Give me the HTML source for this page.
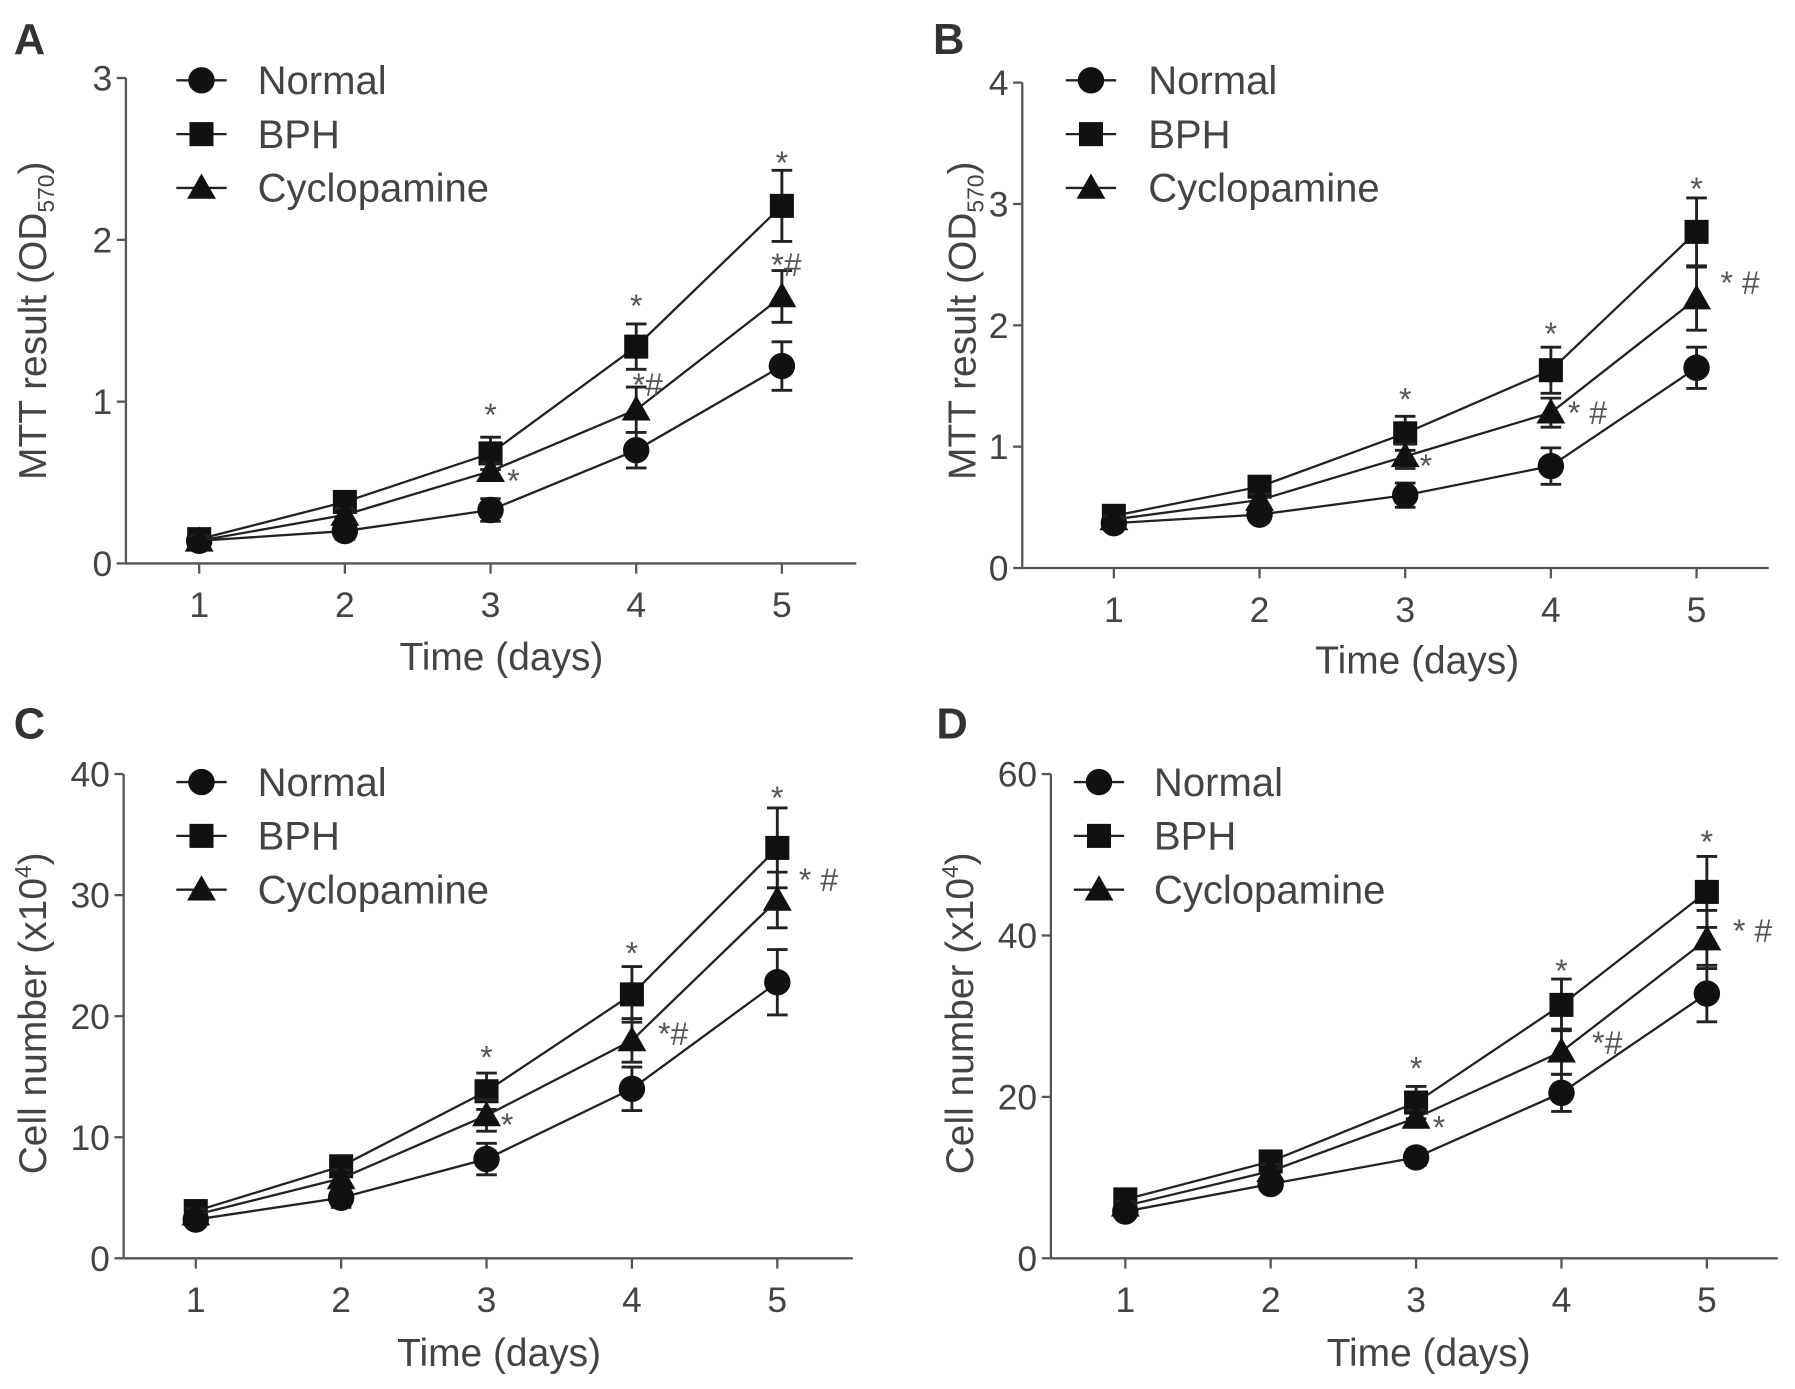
<!DOCTYPE html>
<html><head><meta charset="utf-8"><style>
html,body{margin:0;padding:0;background:#fff}
svg{display:block}
text{font-family:"Liberation Sans",Arial,sans-serif;fill:#444}
</style></head><body>
<svg id="fig" width="1795" height="1389" viewBox="0 0 1568 1213" xmlns="http://www.w3.org/2000/svg"></svg>
<script>
const days = [1,2,3,4,5];
const seriesNames = ["Normal","BPH","Cyclopamine"];
// Panel A
const aNormal=[0.14,0.2,0.33,0.7,1.22], aNormalErr=[0.03,0.05,0.07,0.11,0.15];
const aBPH=[0.15,0.38,0.68,1.34,2.21], aBPHErr=[0.03,0.05,0.1,0.14,0.22];
const aCyc=[0.14,0.3,0.57,0.95,1.65], aCycErr=[0.03,0.04,0.05,0.14,0.16];
const aTicks=[0,1,2,3];
// Panel B
const bNormal=[0.37,0.44,0.6,0.84,1.65], bNormalErr=[0.03,0.06,0.1,0.15,0.17];
const bBPH=[0.43,0.67,1.11,1.63,2.77], bBPHErr=[0.03,0.06,0.14,0.19,0.28];
const bCyc=[0.4,0.56,0.92,1.28,2.22], bCycErr=[0.03,0.05,0.1,0.12,0.26];
const bTicks=[0,1,2,3,4];
// Panel C
const cNormal=[3.2,5.0,8.2,14,22.8], cNormalErr=[0.6,0.8,1.3,1.8,2.7];
const cBPH=[3.9,7.6,13.8,21.8,33.9], cBPHErr=[0.5,0.8,1.5,2.3,3.3];
const cCyc=[3.6,6.6,11.8,18,29.6], cCycErr=[0.5,0.7,1.3,1.8,2.3];
const cTicks=[0,10,20,30,40];
// Panel D
const dNormal=[5.8,9.2,12.5,20.5,32.8], dNormalErr=[0.8,0.8,1,2.3,3.5];
const dBPH=[7.3,12,19.3,31.4,45.4], dBPHErr=[0.7,0.8,2,3.2,4.4];
const dCyc=[6.5,10.8,17.4,25.6,39.5], dCycErr=[0.6,0.8,1,2.8,3.6];
const dTicks=[0,20,40,60];
// annotations: [day, value, text, dx(px), dy(px)]
const aNotes=[[3,0.68,"*",0,-24],[4,1.34,"*",0,-26],[5,2.21,"*",0,-28],[3,0.57,"*",20,18],[4,0.95,"*#",10,-12],[5,1.65,"*#",4,-18]];
const bNotes=[[3,1.11,"*",0,-20],[4,1.63,"*",0,-22],[5,2.77,"*",0,-28],[3,0.92,"*",18,18],[4,1.28,"* #",32,10],[5,2.22,"* #",38,-4]];
const cNotes=[[3,13.8,"*",0,-20],[4,21.8,"*",0,-26],[5,33.9,"*",0,-34],[3,11.8,"*",18,18],[4,18,"*#",36,4],[5,29.6,"* #",36,-8]];
const dNotes=[[3,19.3,"*",0,-20],[4,31.4,"*",0,-20],[5,45.4,"*",0,-34],[3,17.4,"*",20,18],[4,25.6,"*#",40,2],[5,39.5,"* #",40,2]];

const NS="http://www.w3.org/2000/svg";
const svg=document.getElementById('fig');
function mk(tag,attrs,parent){const e=document.createElementNS(NS,tag);for(const k in attrs)e.setAttribute(k,attrs[k]);(parent||svg).appendChild(e);return e;}

const panels=[
 {id:"a",letter:"A",lx:12,ly:47,ax:110,x1:174,x5:683,xend:748,y0:492,ytop:68,ymax:3,ticks:aTicks,data:[[aNormal,aNormalErr],[aBPH,aBPHErr],[aCyc,aCycErr]],notes:aNotes,title:"od",legX:176,legTxt:225,legY:70,tcx:28,tcy:245,xtc:438,xty:585},
 {id:"b",letter:"B",lx:815,ly:47,ax:893,x1:973,x5:1482,xend:1545,y0:496,ytop:72,ymax:4,ticks:bTicks,data:[[bNormal,bNormalErr],[bBPH,bBPHErr],[bCyc,bCycErr]],notes:bNotes,title:"od",legX:953,legTxt:1003,legY:70,tcx:840,tcy:245,xtc:1238,xty:588},
 {id:"c",letter:"C",lx:12,ly:645,ax:108,x1:171,x5:679,xend:745,y0:1099,ytop:676,ymax:40,ticks:cTicks,data:[[cNormal,cNormalErr],[cBPH,cBPHErr],[cCyc,cCycErr]],notes:cNotes,title:"cell",legX:176,legTxt:225,legY:683,tcx:28,tcy:850,xtc:436,xty:1193},
 {id:"d",letter:"D",lx:818,ly:645,ax:918,x1:983,x5:1491,xend:1553,y0:1099,ytop:676,ymax:60,ticks:dTicks,data:[[dNormal,dNormalErr],[dBPH,dBPHErr],[dCyc,dCycErr]],notes:dNotes,title:"cell",legX:960,legTxt:1008,legY:683,tcx:838,tcy:850,xtc:1248,xty:1193}
];

function marker(g,type,x,y,s){
  let m;
  if(type===0) m=mk('circle',{cx:x,cy:y,r:s*0.55,fill:'#111'},g);
  else if(type===1) m=mk('rect',{x:x-s*0.5,y:y-s*0.5,width:s,height:s,fill:'#111'},g);
  else m=mk('polygon',{points:`${x},${y-s*0.6} ${x+s*0.6},${y+s*0.45} ${x-s*0.6},${y+s*0.45}`,fill:'#111'},g);
  return m;
}

panels.forEach(p=>{
  const g=mk('g',{});
  
  
  const xs=d=>p.x1+(d-1)*(p.x5-p.x1)/4;
  const ys=v=>p.y0-v*(p.y0-p.ytop)/p.ymax;
  const lt=mk('text',{x:p.lx,y:p.ly,'font-size':38,'font-weight':'bold',style:'fill:#333'},g);
  lt.textContent=p.letter;
  
  
  const ya=mk('line',{x1:p.ax,y1:p.ytop,x2:p.ax,y2:p.y0,stroke:'#555','stroke-width':2},g);
  
  
  const xa=mk('line',{x1:p.ax,y1:p.y0,x2:p.xend,y2:p.y0,stroke:'#555','stroke-width':2},g);
  
  
  p.ticks.forEach(t=>{
    mk('line',{x1:p.ax-8,y1:ys(t),x2:p.ax,y2:ys(t),stroke:'#555','stroke-width':2},g);
    const tx=mk('text',{x:p.ax-12,y:ys(t)+11,'font-size':31,'text-anchor':'end'},g);
    tx.textContent=t;
    
    
  });
  days.forEach(d=>{
    mk('line',{x1:xs(d),y1:p.y0,x2:xs(d),y2:p.y0+9,stroke:'#555','stroke-width':2},g);
    const tx=mk('text',{x:xs(d),y:p.y0+47,'font-size':31,'text-anchor':'middle'},g);
    tx.textContent=d;
    
    
  });
  const xt=mk('text',{x:p.xtc,y:p.xty,'font-size':34,'text-anchor':'middle'},g);
  xt.textContent="Time (days)";
  
  
  const yt=mk('text',{x:0,y:0,'font-size':34,'text-anchor':'middle',transform:`translate(${p.tcx+12},${p.tcy+35}) rotate(-90)`},g);
  
  
  if(p.title==="od"){
    yt.innerHTML='MTT result (OD<tspan font-size="20" dy="7">570</tspan><tspan dy="-7">)</tspan>';
  } else {
    yt.innerHTML='Cell number (x10<tspan font-size="20" dy="-13">4</tspan><tspan dy="13">)</tspan>';
  }
  p.data.forEach((sd,si)=>{
    const sg=mk('g',{},g);
    
    
    const vals=sd[0],errs=sd[1];
    mk('polyline',{points:vals.map((v,i)=>xs(days[i])+','+ys(v)).join(' '),fill:'none',stroke:'#222','stroke-width':2},sg);
    vals.forEach((v,i)=>{
      const x=xs(days[i]);
      mk('line',{x1:x,y1:ys(v+errs[i]),x2:x,y2:ys(v-errs[i]),stroke:'#222','stroke-width':2.5},sg);
      mk('line',{x1:x-9,y1:ys(v+errs[i]),x2:x+9,y2:ys(v+errs[i]),stroke:'#222','stroke-width':2.5},sg);
      mk('line',{x1:x-9,y1:ys(v-errs[i]),x2:x+9,y2:ys(v-errs[i]),stroke:'#222','stroke-width':2.5},sg);
      const m=marker(sg,si,x,ys(v),21);
      
      
    });
  });
  p.notes.forEach(n=>{
    const t=mk('text',{x:xs(n[0])+n[3],y:ys(n[1])+n[4],'font-size':28,'text-anchor':'middle',style:'fill:#555;white-space:pre','xml:space':'preserve'},g);
    t.textContent=n[2];
    
    
  });
  const lg=mk('g',{},g);
  
  
  seriesNames.forEach((nm,i)=>{
    const y=p.legY+i*47;
    const eg=mk('g',{},lg);
    
    
    mk('line',{x1:p.legX-22,y1:y,x2:p.legX+22,y2:y,stroke:'#222','stroke-width':2},eg);
    marker(eg,i,p.legX,y,21);
    const t=mk('text',{x:p.legTxt,y:y+12,'font-size':35},eg);
    t.textContent=nm;
  });
});
</script>
</body></html>
